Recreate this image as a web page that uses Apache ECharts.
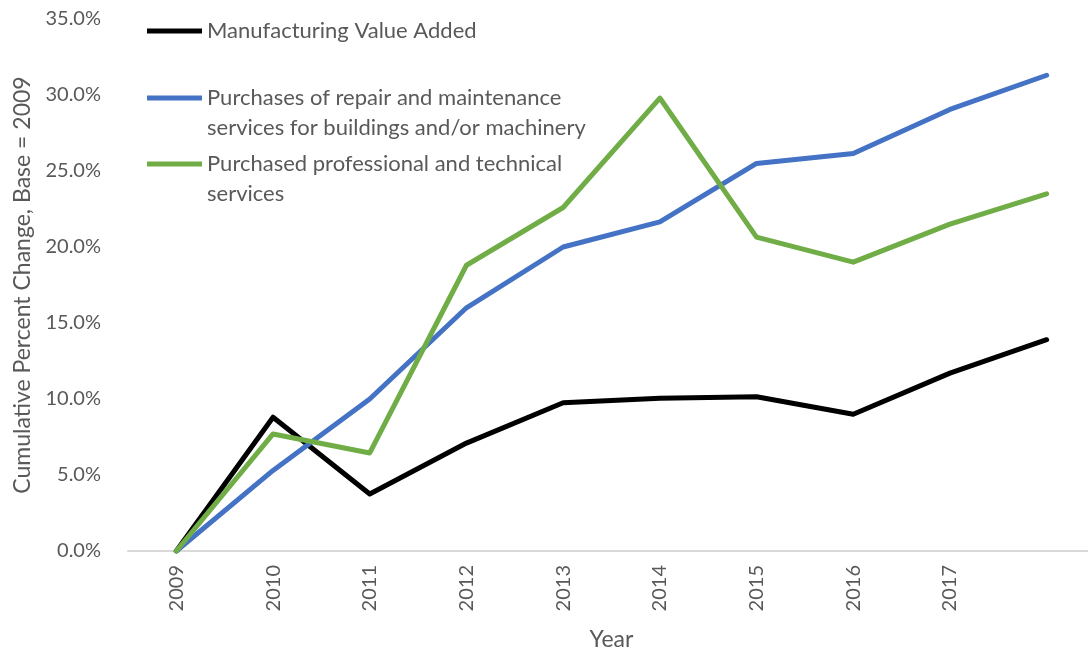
<!DOCTYPE html>
<html>
<head>
<meta charset="utf-8">
<script src="https://cdn.jsdelivr.net/npm/echarts@6/dist/echarts.min.js"></script>
<style>html,body{margin:0;padding:0;background:#fff;}#chart{width:1088px;height:654px;}</style>
</head>
<body>
<div id="chart"></div>
<script>
var years = ['2009','2010','2011','2012','2013','2014','2015','2016','2017',''];
var seriesNames = [
  'Manufacturing Value Added',
  'Purchases of repair and maintenance\nservices for buildings and/or machinery',
  'Purchased professional and technical\nservices'
];
var manufacturing = [0, 8.8, 3.75, 7.1, 9.75, 10.05, 10.15, 9.0, 11.7, 13.9];
var repairMaint = [0, 5.3, 10.0, 16.0, 20.0, 21.65, 25.5, 26.15, 29.05, 31.3];
var profTech = [0, 7.7, 6.45, 18.8, 22.6, 29.8, 20.65, 19.0, 21.5, 23.5];
var yTicks = [0, 5, 10, 15, 20, 25, 30, 35];

var FONT = 'Lato';
var GREY = '#595959';
var chart = echarts.init(document.getElementById('chart'));

function legendCfg(name, top, twoLine) {
  return {
    left: 147, top: top, padding: 0,
    itemWidth: 55, itemHeight: 5, itemGap: 0,
    icon: 'rect',
    data: [name],
    formatter: function (n) { return twoLine ? '\n' + n : n; },
    textStyle: { fontFamily: FONT, fontSize: 22, color: GREY, lineHeight: 30 }
  };
}
function lineSeries(name, data, color) {
  return {
    name: name, type: 'line', data: data, symbol: 'none', showSymbol: false, smooth: false,
    lineStyle: { color: color, width: 5, cap: 'round', join: 'round' },
    itemStyle: { color: color }
  };
}

chart.setOption({
  animation: false,
  backgroundColor: '#fff',
  grid: { left: 128, right: -7, top: 19, bottom: 103, containLabel: false, outerBoundsMode: 'none' },
  legend: [
    legendCfg(seriesNames[0], 16, false),
    legendCfg(seriesNames[1], 53, true),
    legendCfg(seriesNames[2], 119, true)
  ],
  xAxis: {
    type: 'category', data: years, boundaryGap: true,
    name: 'Year', nameLocation: 'middle', nameGap: 77,
    nameTextStyle: { fontFamily: FONT, fontSize: 23, color: GREY },
    axisLine: { show: true, lineStyle: { color: '#d9d9d9', width: 2 } },
    axisTick: { show: false },
    axisLabel: { rotate: 90, margin: 14, fontFamily: FONT, fontSize: 20, color: GREY, interval: 0 },
    splitLine: { show: false }
  },
  yAxis: {
    type: 'value', min: yTicks[0], max: yTicks[yTicks.length - 1], interval: 5,
    name: 'Cumulative Percent Change, Base = 2009', nameLocation: 'middle', nameGap: 93,
    nameTextStyle: { fontFamily: FONT, fontSize: 23, color: GREY },
    axisLine: { show: false }, axisTick: { show: false },
    splitLine: { show: false },
    axisLabel: {
      margin: 27, fontFamily: FONT, fontSize: 20, color: GREY,
      formatter: function (v) { return v.toFixed(1) + '%'; }
    }
  },
  series: [
    lineSeries(seriesNames[0], manufacturing, '#000000'),
    lineSeries(seriesNames[1], repairMaint, '#4472C4'),
    lineSeries(seriesNames[2], profTech, '#70AD47')
  ]
});
</script>
</body>
</html>
